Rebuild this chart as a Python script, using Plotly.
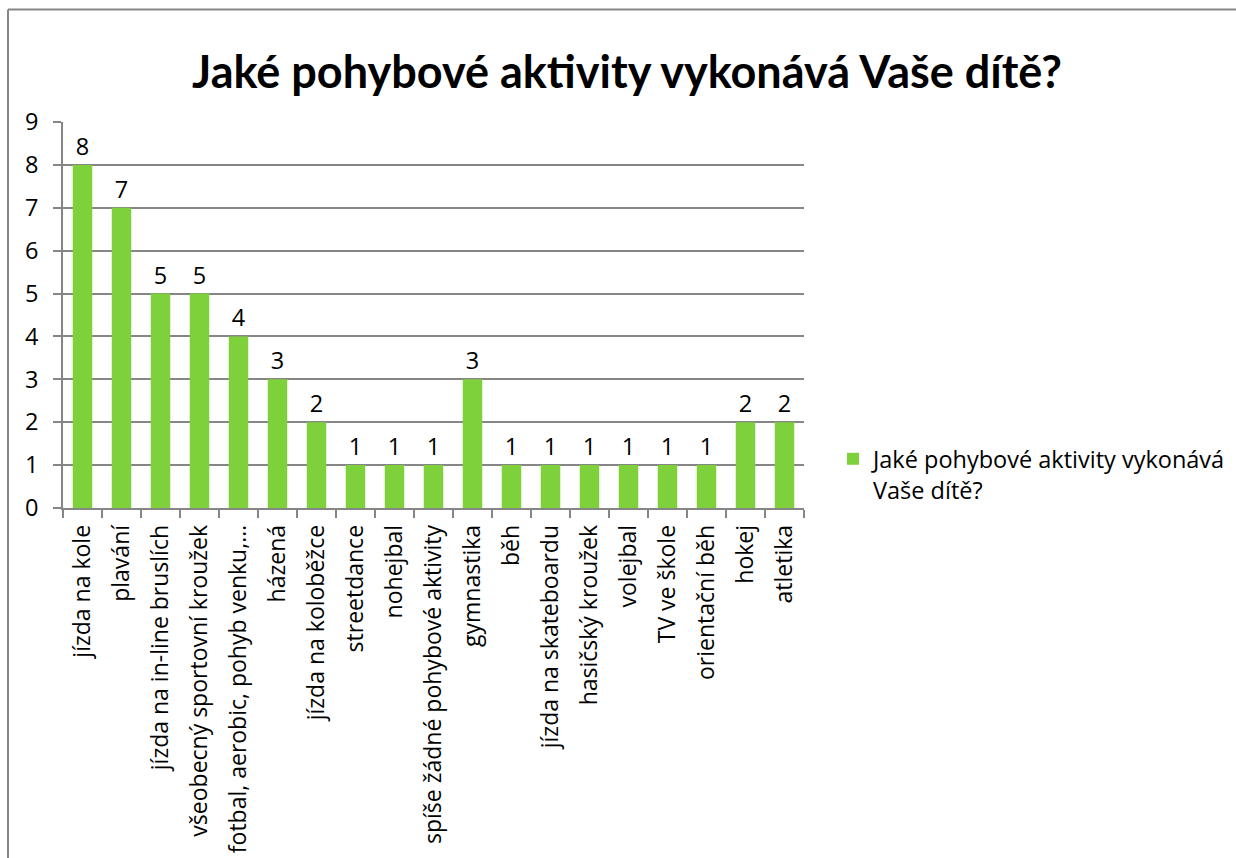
import plotly.graph_objects as go

# Survey answers: activities and how many children do them
activities = [
    "jízda na kole",
    "plavání",
    "jízda na in-line bruslích",
    "všeobecný sportovní kroužek",
    "fotbal, aerobic, pohyb venku,…",
    "házená",
    "jízda na koloběžce",
    "streetdance",
    "nohejbal",
    "spíše žádné pohybové aktivity",
    "gymnastika",
    "běh",
    "jízda na skateboardu",
    "hasičský kroužek",
    "volejbal",
    "TV ve škole",
    "orientační běh",
    "hokej",
    "atletika",
]
counts = [8, 7, 5, 5, 4, 3, 2, 1, 1, 1, 3, 1, 1, 1, 1, 1, 1, 2, 2]
y_ticks = list(range(0, 10))

title_text = "Jaké pohybové aktivity vykonává Vaše dítě?"
series_name = "Jaké pohybové aktivity vykonává<br>Vaše dítě?"

GREEN = "#7FD13B"
GREY = "#868686"
FONT = "Open Sans"
FS = 23.5
CAT_FS = 23

W, H = 1236, 858
L, R, T, B = 63, 432, 122, 350
pw, ph = W - L - R, H - T - B


def px_x(x):
    return (x - L) / pw


def px_y(y):
    return (H - B - y) / ph


fig = go.Figure()
fig.add_trace(
    go.Bar(
        x=activities,
        y=counts,
        name=series_name,
        marker=dict(color=GREEN, line=dict(width=0)),
        text=counts,
        textposition="outside",
        textfont=dict(family=FONT, size=FS, color="#000000"),
        cliponaxis=False,
        showlegend=True,
    )
)

fig.update_layout(
    width=W,
    height=H,
    margin=dict(l=L, r=R, t=T, b=B, autoexpand=False),
    paper_bgcolor="white",
    plot_bgcolor="white",
    bargap=0.5,
    title=dict(
        text=f"<b>{title_text}</b>",
        font=dict(family="Lato", size=45, color="#000000"),
        x=627 / W,
        xanchor="center",
        xref="container",
        y=(H - 72) / H,
        yanchor="middle",
    ),
    font=dict(family=FONT, size=FS, color="#000000"),
    showlegend=True,
    legend=dict(
        x=px_x(833),
        y=px_y(437),
        xanchor="left",
        yanchor="top",
        font=dict(family=FONT, size=FS, color="#000000"),
        valign="top",
        bgcolor="rgba(0,0,0,0)",
        itemwidth=30,
    ),
    xaxis=dict(
        type="category",
        tickangle=-90,
        tickson="boundaries",
        ticks="outside",
        ticklen=8,
        tickcolor=GREY,
        tickwidth=1.5,
        ticklabelstandoff=6,
        automargin=False,
        showline=True,
        linecolor=GREY,
        linewidth=1.5,
        showgrid=False,
        tickfont=dict(family=FONT, size=CAT_FS, color="#000000"),
        fixedrange=True,
    ),
    yaxis=dict(
        range=[0, 9],
        tickvals=y_ticks,
        ticks="outside",
        ticklen=8,
        tickcolor=GREY,
        tickwidth=1.5,
        ticklabelstandoff=10,
        automargin=False,
        showline=True,
        linecolor=GREY,
        linewidth=1.5,
        showgrid=True,
        gridcolor=GREY,
        gridwidth=1.5,
        zeroline=False,
        tickfont=dict(family=FONT, size=FS, color="#000000"),
        fixedrange=True,
    ),
    shapes=[
        # outer chart frame: top and left edges
        dict(type="line", xref="paper", yref="paper",
             x0=px_x(8), x1=px_x(W + 5), y0=px_y(9.5), y1=px_y(9.5),
             line=dict(color=GREY, width=2)),
        dict(type="line", xref="paper", yref="paper",
             x0=px_x(8), x1=px_x(8), y0=px_y(9.5), y1=px_y(H + 5),
             line=dict(color=GREY, width=2)),
    ],
)

fig.write_html("out.html")
